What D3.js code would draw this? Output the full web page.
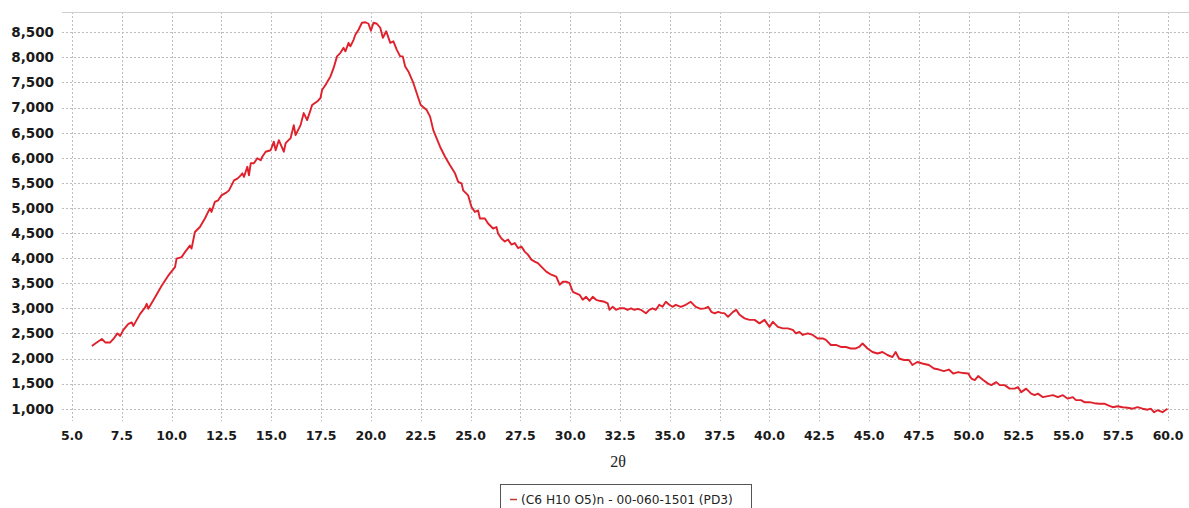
<!DOCTYPE html>
<html>
<head>
<meta charset="utf-8">
<script src="https://cdn.jsdelivr.net/npm/d3@7"></script>
<style>
  html, body { margin: 0; padding: 0; background: #fff; }
  svg { display: block; }
</style>
</head>
<body>
<svg id="chart" width="1189" height="508"></svg>
<script>
// ---- data ----
const theta = [
  6.0,6.17,6.5,6.67,6.92,7.08,7.28,7.42,7.58,7.83,8.0,8.08,8.42,8.67,8.75,8.83,9.17,9.5,9.83,10.17,
  10.25,10.5,10.67,10.92,11.0,11.17,11.42,11.67,11.92,12.0,12.17,12.33,12.5,12.72,12.88,13.13,13.3,13.47,13.55,13.63,
  13.8,13.88,13.97,14.13,14.3,14.47,14.55,14.72,14.97,15.13,15.22,15.38,15.63,15.72,15.97,16.13,16.22,16.47,16.63,16.8,
  16.97,17.05,17.3,17.47,17.55,17.72,17.97,18.13,18.3,18.47,18.63,18.72,18.88,18.97,19.13,19.22,19.38,19.55,19.72,19.88,
  20.0,20.13,20.3,20.47,20.6,20.77,20.97,21.13,21.3,21.47,21.6,21.72,21.88,22.13,22.38,22.5,22.8,22.97,23.13,23.47,
  23.72,23.97,24.22,24.38,24.55,24.63,24.88,25.05,25.22,25.38,25.47,25.72,25.88,26.13,26.3,26.38,26.55,26.72,26.88,27.05,
  27.22,27.38,27.55,27.72,27.88,28.05,28.22,28.38,28.55,28.8,29.05,29.3,29.47,29.63,29.8,29.97,30.13,30.3,30.47,30.63,
  30.8,30.97,31.13,31.3,31.47,31.72,31.88,31.97,32.13,32.3,32.47,32.72,32.88,33.05,33.22,33.38,33.55,33.8,33.97,34.13,
  34.3,34.47,34.63,34.8,34.97,35.13,35.3,35.55,35.8,36.05,36.3,36.55,36.75,36.92,37.08,37.25,37.42,37.58,37.75,37.92,
  38.17,38.33,38.5,38.75,39.0,39.25,39.5,39.75,40.0,40.17,40.42,40.67,40.92,41.17,41.33,41.5,41.67,41.92,42.17,42.42,
  42.67,42.83,43.08,43.33,43.58,43.83,44.08,44.33,44.5,44.67,44.92,45.17,45.42,45.67,45.92,46.17,46.33,46.5,46.75,47.0,
  47.17,47.42,47.67,48.0,48.25,48.5,48.75,49.0,49.22,49.47,49.72,49.97,50.13,50.3,50.47,50.72,50.97,51.13,51.38,51.55,
  51.8,52.05,52.3,52.47,52.63,52.88,53.13,53.3,53.47,53.72,53.97,54.22,54.47,54.72,54.97,55.22,55.38,55.63,55.8,56.05,
  56.3,56.55,56.8,56.97,57.22,57.47,57.72,57.97,58.22,58.47,58.72,58.97,59.13,59.3,59.47,59.72,59.97
];
const counts = [
  2250,2300,2390,2320,2320,2390,2500,2450,2570,2690,2720,2650,2890,3020,3090,2990,3220,3450,3650,3820,
  3990,4020,4120,4250,4190,4520,4620,4790,4990,4920,5120,5150,5250,5300,5350,5550,5585,5650,5690,5620,
  5820,5650,5890,5890,5990,5950,6020,6120,6150,6320,6150,6350,6120,6290,6390,6650,6450,6650,6890,6750,
  6950,7050,7120,7190,7350,7450,7620,7790,8020,8090,8190,8120,8290,8220,8350,8450,8550,8690,8700,8670,
  8530,8690,8670,8590,8390,8520,8290,8320,8150,8020,8020,7820,7720,7490,7190,7050,6950,6820,6550,6220,
  6020,5850,5690,5520,5490,5350,5250,5020,4920,4950,4790,4790,4690,4590,4620,4490,4390,4330,4370,4270,
  4300,4200,4230,4130,4070,3970,3930,3900,3830,3730,3670,3630,3470,3530,3530,3500,3330,3300,3270,3170,
  3230,3150,3230,3170,3150,3130,3100,2970,3030,2970,3000,3000,2970,3000,2970,2990,2970,2900,2970,3000,
  2970,3070,3030,3130,3070,3030,3070,3030,3070,3130,3030,2990,3000,3030,2930,2900,2930,2910,2900,2830,
  2930,2970,2870,2800,2770,2770,2700,2770,2630,2730,2630,2600,2600,2570,2500,2530,2470,2500,2470,2400,
  2400,2370,2270,2270,2230,2230,2200,2200,2230,2300,2200,2130,2100,2130,2070,2030,2130,2000,1970,1970,
  1870,1930,1900,1870,1800,1780,1750,1780,1700,1730,1710,1700,1600,1570,1650,1570,1500,1470,1530,1470,
  1470,1400,1400,1430,1330,1400,1300,1270,1300,1230,1250,1270,1230,1270,1200,1230,1170,1170,1130,1130,
  1110,1100,1100,1070,1030,1050,1030,1020,1000,1030,1000,980,1000,930,970,930,1000
];
const xTicks = [5.0,7.5,10.0,12.5,15.0,17.5,20.0,22.5,25.0,27.5,30.0,32.5,35.0,37.5,40.0,42.5,45.0,47.5,50.0,52.5,55.0,57.5,60.0];
const yTicks = [1000,1500,2000,2500,3000,3500,4000,4500,5000,5500,6000,6500,7000,7500,8000,8500];
const xTitle = "2θ";
const legendLabel = "(C6 H10 O5)n - 00-060-1501 (PD3)";

// ---- layout ----
const svg = d3.select("#chart");
const plot = { left: 62, right: 1189, top: 12, bottom: 421 };
const x = d3.scaleLinear().domain([4.5, 61.05]).range([plot.left, plot.right]);
const y = d3.scaleLinear().domain([755, 8904]).range([plot.bottom, plot.top]);
const fmtX = d3.format(".1f");
const fmtY = d3.format(",");

// grid
const grid = svg.append("g").attr("stroke", "#bdbdbd").attr("stroke-width", 1).attr("stroke-dasharray", "2,2");
grid.selectAll("line.h").data(yTicks).join("line")
  .attr("x1", plot.left).attr("x2", plot.right)
  .attr("y1", d => Math.round(y(d)) + 0.5).attr("y2", d => Math.round(y(d)) + 0.5);
grid.selectAll("line.v").data(xTicks).join("line")
  .attr("y1", plot.top).attr("y2", plot.bottom)
  .attr("x1", d => Math.round(x(d)) + 0.5).attr("x2", d => Math.round(x(d)) + 0.5);

// top border
svg.append("line").attr("x1", plot.left).attr("x2", plot.right)
  .attr("y1", plot.top + 0.5).attr("y2", plot.top + 0.5)
  .attr("stroke", "#cfcfcf").attr("stroke-width", 1);

// y tick labels
svg.append("g").selectAll("text").data(yTicks).join("text")
  .attr("x", 54).attr("y", d => y(d)).attr("dy", "0.36em")
  .attr("text-anchor", "end")
  .attr("font-family", "'DejaVu Sans', Verdana, sans-serif")
  .attr("font-weight", "bold").attr("font-size", 13.5).attr("fill", "#1a1a1a")
  .text(d => fmtY(d));

// x tick labels
svg.append("g").selectAll("text").data(xTicks).join("text")
  .attr("x", d => x(d)).attr("y", 440)
  .attr("text-anchor", "middle")
  .attr("font-family", "'DejaVu Sans', Verdana, sans-serif")
  .attr("font-weight", "bold").attr("font-size", 12.5).attr("fill", "#1a1a1a")
  .text(d => fmtX(d));

// axis title
svg.append("text").attr("x", 618).attr("y", 467).attr("text-anchor", "middle")
  .attr("font-family", "'Liberation Serif', 'DejaVu Serif', serif")
  .attr("font-size", 16).attr("fill", "#222").text(xTitle);

// data line
const data = theta.map((t, i) => [t, counts[i]]);
svg.append("path").datum(data)
  .attr("fill", "none").attr("stroke", "#e0202b").attr("stroke-width", 1.9)
  .attr("stroke-linejoin", "round")
  .attr("d", d3.line().x(d => x(d[0])).y(d => y(d[1])));

// legend
const lg = svg.append("g");
lg.append("rect").attr("x", 500.5).attr("y", 484.5).attr("width", 251).attr("height", 30)
  .attr("fill", "#fff").attr("stroke", "#555").attr("stroke-width", 1);
lg.append("line").attr("x1", 510).attr("x2", 517).attr("y1", 499.5).attr("y2", 499.5)
  .attr("stroke", "#c0392b").attr("stroke-width", 1.5);
lg.append("text").attr("x", 521).attr("y", 499.5).attr("dy", "0.36em")
  .attr("font-family", "'DejaVu Sans', Verdana, sans-serif")
  .attr("font-size", 12.2).attr("fill", "#222").text(legendLabel);
</script>
</body>
</html>
